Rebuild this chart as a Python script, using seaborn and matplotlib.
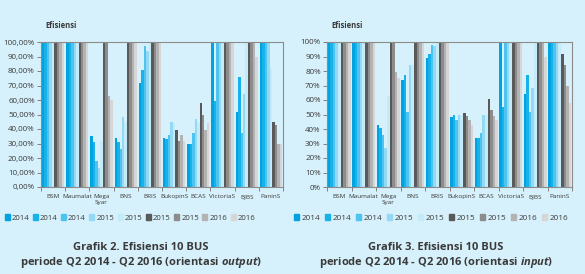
import matplotlib.pyplot as plt
import pandas as pd
import seaborn as sns
from matplotlib.patches import Patch

# datos
bancos = ['BSM', 'Maumalat', 'Mega\nSyar', 'BNS', 'BRIS', 'BukopinS', 'BCAS', 'VictoriaS', 'BJBS', 'PaninS']
series = ['s1', 's2', 's3', 's4', 's5', 's6', 's7', 's8', 's9']
leyenda = ['2014', '2014', '2014', '2015', '2015', '2015', '2015', '2016', '2016']

# una fila por banco, una columna por serie (orientasi output)
efisiensi_output = [
    [100, 100, 100, 100, 100, 100, 100, 100, 100],
    [100, 100, 100, 100, 100, 100, 100, 100, 100],
    [35, 31, 18, 13, 32, 100, 100, 63, 60],
    [34, 31, 26, 48, 45, 100, 100, 100, 100],
    [72, 81, 97, 94, 100, 100, 100, 100, 100],
    [34, 33, 36, 45, 44, 39, 32, 36, 32],
    [30, 30, 37, 47, 44, 58, 50, 39, 44],
    [100, 59, 100, 100, 100, 100, 100, 100, 100],
    [52, 76, 37, 64, 100, 100, 100, 100, 90],
    [100, 100, 100, 100, 82, 45, 43, 30, 30],
]

# orientasi input
efisiensi_input = [
    [100, 100, 100, 100, 100, 100, 100, 100, 100],
    [100, 100, 100, 100, 100, 100, 100, 100, 100],
    [43, 41, 36, 27, 63, 100, 100, 79, 75],
    [74, 77, 52, 84, 84, 100, 100, 100, 100],
    [89, 92, 98, 97, 100, 100, 100, 100, 100],
    [48, 50, 46, 50, 50, 51, 49, 46, 43],
    [34, 34, 37, 50, 50, 61, 53, 49, 46],
    [100, 55, 100, 100, 100, 100, 100, 100, 100],
    [64, 77, 52, 68, 100, 100, 100, 100, 90],
    [100, 100, 100, 100, 100, 92, 84, 70, 58],
]

yticks = [0, 10, 20, 30, 40, 50, 60, 70, 80, 90, 100]
ylabels_output = ['0,00%', '10,00%', '20,00%', '30,00%', '40,00%', '50,00%',
                  '60,00%', '70,00%', '80,00%', '90,00%', '100,00%']
ylabels_input = ['0%', '10%', '20%', '30%', '40%', '50%', '60%', '70%', '80%', '90%', '100%']

colores = ['#00a3e0', '#17b2ea', '#4ec3ef', '#93d9f4', '#c3ebf9',
           '#595959', '#8c8c8c', '#b3b3b3', '#d6d6d6']
fondo = '#d6f1fb'
texto = '#3a3a3a'

sns.set_theme(style='white')
plt.rcParams['font.family'] = ['Open Sans', 'DejaVu Sans']
plt.rcParams['mathtext.fontset'] = 'custom'
plt.rcParams['mathtext.it'] = 'Open Sans:italic:bold'
plt.rcParams['mathtext.rm'] = 'Open Sans:bold'

fig = plt.figure(figsize=(5.85, 2.74), dpi=100, facecolor=fondo)
W, H = 585, 274
ax1 = fig.add_axes([41 / W, 1 - 187 / H, 242 / W, 145 / H])
ax2 = fig.add_axes([327 / W, 1 - 187 / H, 245 / W, 145 / H])


def dibujar(ax, valores, ylabels):
    df = pd.DataFrame(valores, columns=series)
    df['banco'] = bancos
    largo = df.melt(id_vars='banco', var_name='serie', value_name='valor')
    sns.barplot(data=largo, x='banco', y='valor', hue='serie', palette=colores,
                saturation=1, width=0.92, linewidth=0, errorbar=None,
                legend=False, ax=ax)
    ax.set_facecolor(fondo)
    ax.set_xlim(-0.5, 9.5)
    ax.set_ylim(0, 100)
    ax.set_yticks(yticks, ylabels)
    ax.set_xticks(range(len(bancos)), bancos)
    ax.set_xticks([i - 0.5 for i in range(len(bancos) + 1)], minor=True)
    ax.tick_params(axis='x', which='major', length=0, labelsize=4.6, pad=5,
                   labelcolor=texto)
    ax.tick_params(axis='x', which='minor', length=3, width=0.7, color='#7f7f7f',
                   bottom=True)
    ax.tick_params(axis='y', length=3, width=0.7, color='#7f7f7f', labelsize=5.8,
                   labelcolor=texto, pad=1.5, left=True)
    for s in ax.spines.values():
        s.set_color('#8c8c8c')
        s.set_linewidth(0.8)
    ax.set_xlabel('')
    ax.set_ylabel('')


dibujar(ax1, efisiensi_output, ylabels_output)
dibujar(ax2, efisiensi_input, ylabels_input)

fig.text(45 / W, 1 - 25 / H, 'Efisiensi', fontsize=5.5, weight='bold',
         color=texto, va='center')
fig.text(331 / W, 1 - 25 / H, 'Efisiensi', fontsize=5.5, weight='bold',
         color=texto, va='center')

handles = [Patch(color=c) for c in colores]
# leyenda izquierda algo mas compacta que la derecha, como en el original
for cx, fs, esp in [(130 / W, 5.6, 0.45), (431 / W, 5.9, 0.6)]:
    fig.legend(handles, leyenda, ncol=9, loc='center', bbox_to_anchor=(cx, 1 - 218 / H),
               frameon=False, fontsize=fs, handlelength=0.65, handleheight=0.65,
               handletextpad=0.25, columnspacing=esp, labelcolor=texto,
               borderpad=0, borderaxespad=0)

fig.text(141 / W, 1 - 248 / H, 'Grafik 2. Efisiensi 10 BUS', fontsize=8,
         weight='bold', color=texto, ha='center', va='center')
fig.text(141 / W, 1 - 263 / H, r'periode Q2 2014 - Q2 2016 (orientasi $\mathit{output}$)',
         fontsize=8, weight='bold', color=texto, ha='center', va='center')
fig.text(436 / W, 1 - 248 / H, 'Grafik 3. Efisiensi 10 BUS', fontsize=8,
         weight='bold', color=texto, ha='center', va='center')
fig.text(436 / W, 1 - 263 / H, r'periode Q2 2014 - Q2 2016 (orientasi $\mathit{input}$)',
         fontsize=8, weight='bold', color=texto, ha='center', va='center')

fig.savefig('out.png', dpi=100, facecolor=fondo)
